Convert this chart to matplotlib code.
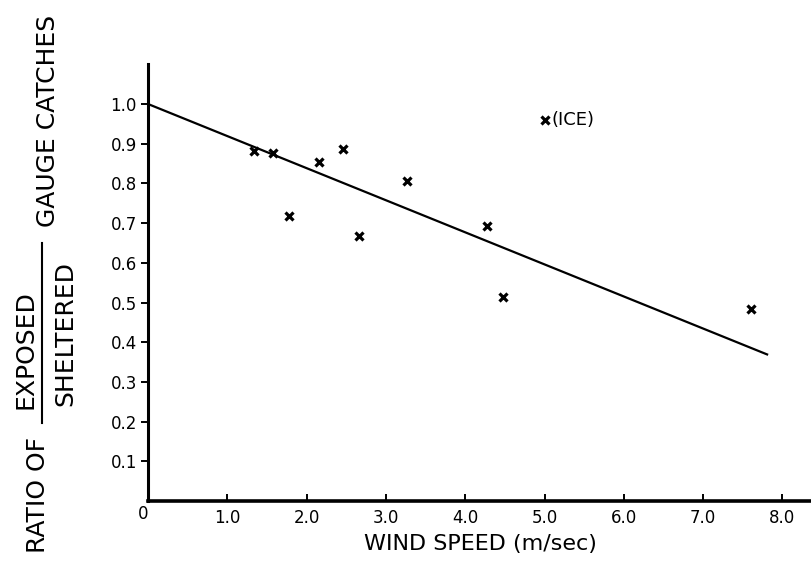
import numpy as np
import matplotlib
matplotlib.use("Agg")
import matplotlib.pyplot as plt

# gauge catch ratio vs wind speed
wind_speed = [1.34, 1.57, 1.78, 2.16, 2.46, 2.66, 3.26, 4.27, 4.48, 7.61]
ratio = [0.882, 0.877, 0.719, 0.855, 0.886, 0.667, 0.806, 0.693, 0.514, 0.483]

# the ice observation, labelled separately
ice_speed = 5.00
ice_ratio = 0.960

# fitted line
fit_intercept = 1.0
fit_slope = -0.0808
fit_range = [0.0, 7.82]

x_ticks = [1, 2, 3, 4, 5, 6, 7, 8]
x_tick_labels = ["1.0", "2.0", "3.0", "4.0", "5.0", "6.0", "7.0", "8.0"]
y_ticks = [0.1, 0.2, 0.3, 0.4, 0.5, 0.6, 0.7, 0.8, 0.9, 1.0]
y_tick_labels = ["0.1", "0.2", "0.3", "0.4", "0.5", "0.6", "0.7", "0.8", "0.9", "1.0"]
origin_label = "0"

W, H = 812, 563
fig = plt.figure(figsize=(W / 100, H / 100), dpi=100)
# axes in pixels: left 148, bottom 501, 0.1 = 39.7 px, 1.0 unit of speed = 79.3 px
ax_h = 1.1 * 397
ax = fig.add_axes([148 / W, 1 - 501 / H, (W - 148) / W, ax_h / H])

fx = np.array(fit_range)
ax.plot(fx, fit_intercept + fit_slope * fx, color="black", lw=1.6, solid_capstyle="butt")
ax.plot(wind_speed, ratio, "x", color="black", ms=6, mew=2.3, clip_on=False)
ax.plot([ice_speed], [ice_ratio], "x", color="black", ms=6, mew=2.3)
ax.annotate("(ICE)", xy=(ice_speed, ice_ratio), xytext=(5, 0),
            textcoords="offset points", va="center", ha="left", fontsize=13)

ax.set_xlim(0, (W - 148) / 79.3)
ax.set_ylim(0, 1.1)
ax.spines["top"].set_visible(False)
ax.spines["right"].set_visible(False)
ax.spines["left"].set_linewidth(2.2)
ax.spines["bottom"].set_linewidth(2.6)

ax.set_xticks(x_ticks)
ax.set_xticklabels(x_tick_labels, fontsize=12)
ax.set_yticks(y_ticks)
ax.set_yticklabels(y_tick_labels, fontsize=12)
ax.tick_params(axis="x", direction="in", length=5, width=1.4, pad=5.5)
ax.tick_params(axis="y", direction="out", length=5, width=1.4, pad=3)
ax.annotate(origin_label, xy=(0, 0), xytext=(0, -3), textcoords="offset points",
            ha="right", va="top", fontsize=12, annotation_clip=False)

ax.set_xlabel("WIND SPEED (m/sec)", fontsize=16, va="baseline")
ax.xaxis.set_label_coords(0.5, -(550 - 501) / ax_h)

# y label built from pieces: RATIO OF  EXPOSED/SHELTERED  GAUGE CATCHES
fs = 18
def vtext(x_base, y_mid, s):
    fig.text(x_base / W, 1 - y_mid / H, s, rotation=90, rotation_mode="anchor",
             ha="center", va="baseline", fontsize=fs)

vtext(45, 495, "RATIO OF")
vtext(33, 350, "EXPOSED")
vtext(72, 334, "SHELTERED")
vtext(55, 121, "GAUGE CATCHES")
fig.add_artist(plt.Line2D([42 / W, 42 / W], [1 - 423 / H, 1 - 243 / H],
                          transform=fig.transFigure, color="black", lw=1.5))

fig.savefig("out.png", dpi=100)
